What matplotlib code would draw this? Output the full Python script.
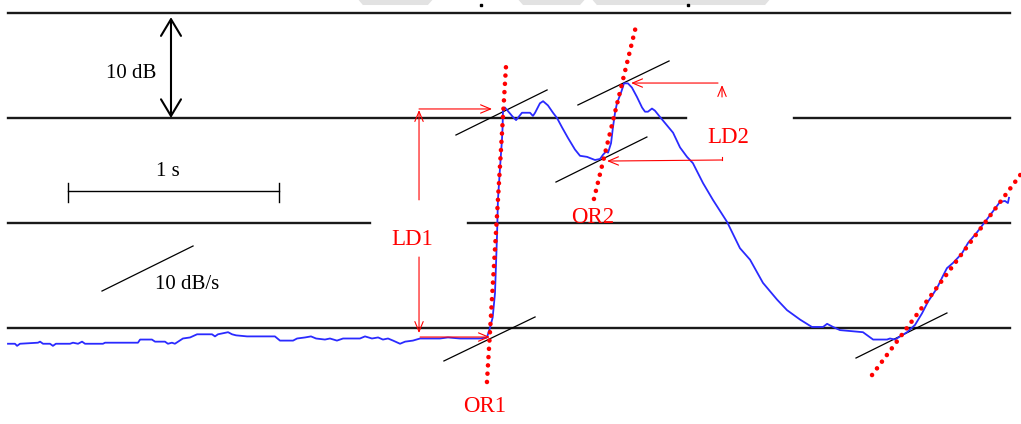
import matplotlib.pyplot as plt
from matplotlib.patches import Polygon

# niveau (dB) en fonction du temps (s)
temps = [0.000, 0.033, 0.043, 0.057, 0.142, 0.152, 0.166, 0.199, 0.213, 0.227,
         0.294, 0.308, 0.332, 0.351, 0.365, 0.450, 0.460, 0.616, 0.626, 0.682,
         0.697, 0.744, 0.758, 0.777, 0.791, 0.806, 0.829, 0.863, 0.896, 0.967,
         0.981, 0.995, 1.043, 1.062, 1.081, 1.133, 1.265, 1.289, 1.351, 1.370,
         1.408, 1.436, 1.460, 1.502, 1.526, 1.559, 1.588, 1.630, 1.668, 1.692,
         1.725, 1.754, 1.777, 1.801, 1.825, 1.858, 1.882, 1.919, 1.953, 2.000,
         2.047, 2.085, 2.142, 2.190, 2.237, 2.270,
         2.284, 2.297, 2.308, 2.318, 2.322, 2.332, 2.341, 2.344, 2.346, 2.355,
         2.393, 2.408, 2.436, 2.474, 2.488, 2.498, 2.521, 2.536, 2.559, 2.583,
         2.602, 2.626, 2.654, 2.687, 2.711, 2.744, 2.782, 2.806, 2.820, 2.834,
         2.844, 2.858, 2.867, 2.877, 2.886, 2.905, 2.915, 2.919, 2.938, 2.957,
         2.981, 3.005, 3.019, 3.033, 3.052, 3.066, 3.090, 3.123, 3.152, 3.185,
         3.218, 3.246, 3.294, 3.341, 3.408, 3.469, 3.517, 3.578, 3.645, 3.692,
         3.754, 3.810, 3.863, 3.882, 3.910, 3.943, 4.052, 4.100, 4.166, 4.180,
         4.204, 4.261, 4.299, 4.332, 4.360, 4.403, 4.427, 4.450, 4.479, 4.521,
         4.550, 4.592, 4.630, 4.664, 4.701, 4.725, 4.739, 4.744]
niveau = [-1.5, -1.5, -1.7, -1.5, -1.4, -1.3, -1.5, -1.5, -1.7, -1.5,
          -1.5, -1.4, -1.5, -1.3, -1.5, -1.5, -1.4, -1.4, -1.1, -1.1,
          -1.3, -1.3, -1.5, -1.4, -1.5, -1.3, -1.0, -0.9, -0.6, -0.6,
          -0.8, -0.6, -0.4, -0.6, -0.7, -0.8, -0.8, -1.2, -1.2, -1.0,
          -0.9, -0.8, -1.0, -1.1, -1.0, -1.2, -1.0, -1.0, -1.0, -0.8,
          -1.0, -0.9, -1.1, -1.0, -1.2, -1.5, -1.3, -1.2, -1.0, -1.0,
          -1.0, -0.9, -1.0, -1.0, -1.0, -0.9,
          0.0, 1.0, 3.3, 9.0, 12.2, 15.3, 17.9, 19.1, 20.8, 21.0,
          20.1, 19.8, 20.5, 20.5, 20.2, 20.5, 21.4, 21.6, 21.2, 20.5,
          20.0, 19.1, 18.1, 17.0, 16.4, 16.3, 16.0, 16.1, 16.5, 16.8,
          16.7, 17.6, 19.1, 20.5, 21.4, 22.4, 23.0, 23.3, 23.3, 22.9,
          22.0, 21.0, 20.6, 20.6, 20.9, 20.7, 20.1, 19.3, 18.6, 17.2,
          16.3, 15.7, 13.8, 12.2, 10.1, 7.6, 6.5, 4.3, 2.7, 1.7,
          0.8, 0.1, 0.1, 0.4, 0.1, -0.2, -0.4, -1.1, -1.1, -1.0,
          -1.1, -0.4, 0.3, 1.4, 2.5, 3.8, 4.8, 5.7, 6.2, 7.1,
          8.1, 9.1, 10.1, 11.0, 12.0, 12.1, 11.9, 12.4]

# lignes de niveau (dB) et leurs segments en temps
niveaux_grille = [30, 20, 20, 10, 10, 0]
debut_grille = [0.0, 0.0, 3.725, 0.0, 2.180, 0.0]
fin_grille = [4.749, 3.213, 4.749, 1.716, 4.749, 4.749]

# droites d'onset (pointilles rouges) : (t0, L0, t1, L1)
onsets = [(2.270, -5.14, 2.360, 24.86),
          (2.777, 12.29, 2.981, 29.14),
          (4.095, -4.48, 4.801, 14.67)]

# tangentes noires a 10 dB/s
tangentes = [(2.066, -3.14, 2.498, 1.05),
             (2.123, 18.38, 2.555, 22.67),
             (2.597, 13.90, 3.028, 18.19),
             (2.701, 21.24, 3.133, 25.43),
             (4.019, -2.86, 4.450, 1.43)]

# fleches rouges : (depart, arrivee)
fleches = [((1.948, 12.2), (1.948, 20.76)),
           ((1.948, 6.76), (1.948, -0.48)),
           ((1.948, 20.86), (2.294, 20.86)),
           ((1.953, -0.86), (2.284, -0.86)),
           ((3.365, 23.33), (2.953, 23.33)),
           ((3.384, 16.0), (2.839, 15.9)),
           ((3.384, 22.0), (3.384, 23.14))]

etiquettes = ["LD1", "OR1", "OR2", "LD2"]
pos_etiquettes = [(1.915, 8.4), (2.261, -7.43), (2.773, 10.57), (3.412, 18.1)]

# filigrane gris en haut
filigrane = [[(1.659, 31.3), (2.014, 31.3), (1.990, 30.76), (1.682, 30.76)],
             [(2.417, 31.3), (2.735, 31.3), (2.711, 30.76), (2.441, 30.76)],
             [(2.768, 31.3), (3.611, 31.3), (3.588, 30.76), (2.791, 30.76)]]

police = "Liberation Serif"

fig = plt.figure(figsize=(10.21, 4.24), dpi=100)
ax = fig.add_axes([0, 0, 1, 1])
ax.set_xlim(-0.0379, 4.801)
ax.set_ylim(-9.143, 31.238)
ax.axis("off")

for p in filigrane:
    ax.add_patch(Polygon(p, closed=True, facecolor="#e2e2e2", edgecolor="none", zorder=0))
ax.plot([2.242, 3.223], [30.76, 30.76], "s", color="black", markersize=1.5)

for L, t0, t1 in zip(niveaux_grille, debut_grille, fin_grille):
    ax.plot([t0, t1], [L, L], color="#1a1a1a", lw=1.7, zorder=1)

ax.plot(temps, niveau, color="#2a2aff", lw=1.3, zorder=3)

for t0, L0, t1, L1 in onsets:
    ax.plot([t0, t1], [L0, L1], color="red", lw=3.3, linestyle=(0, (0.01, 1.8)),
            dash_capstyle="round", zorder=4)

for t0, L0, t1, L1 in tangentes:
    ax.plot([t0, t1], [L0, L1], color="black", lw=0.9, zorder=2)

for a, b in fleches:
    ax.annotate("", xy=b, xytext=a,
                arrowprops=dict(arrowstyle="->,head_length=0.6,head_width=0.25",
                                color="red", lw=0.8, mutation_scale=12,
                                shrinkA=0, shrinkB=0), zorder=5)
# petit trait sous LD2
ax.plot([3.384, 3.384], [16.0, 16.29], color="red", lw=0.8)

for txt, (t, L) in zip(etiquettes, pos_etiquettes):
    ax.text(t, L, txt, color="red", fontsize=16.5, family=police, ha="center", va="center")

# echelles
ax.annotate("", xy=(0.7725, 29.6), xytext=(0.7725, 20.0),
            arrowprops=dict(arrowstyle="<->,head_length=0.6,head_width=0.36",
                            color="black", lw=1.5, mutation_scale=20,
                            shrinkA=0, shrinkB=0))
ax.text(0.583, 24.2, "10 dB", fontsize=15, family=police, ha="center", va="center")

ax.plot([0.284, 1.284], [13.05, 13.05], color="black", lw=1.0)
ax.plot([0.284, 0.284], [12.0, 13.8], color="black", lw=1.0)
ax.plot([1.284, 1.284], [12.0, 13.8], color="black", lw=1.0)
ax.text(0.758, 14.86, "1 s", fontsize=15, family=police, ha="center", va="center")

ax.plot([0.4455, 0.877], [3.52, 7.81], color="black", lw=0.9)
ax.text(0.848, 4.1, "10 dB/s", fontsize=15, family=police, ha="center", va="center")

plt.savefig("out.png", dpi=100)
